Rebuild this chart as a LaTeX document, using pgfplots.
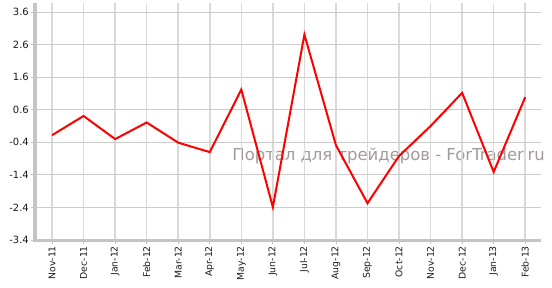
\documentclass[border=0pt]{standalone}
\usepackage{pgfplots}
\pgfplotsset{compat=1.18}
\usepackage{fontspec}
\setmainfont{DejaVu Sans}
\definecolor{axisgray}{HTML}{C4C4C4}
\definecolor{hgrid}{HTML}{CCCCCC}
\definecolor{vgrid}{HTML}{DADADA}
\definecolor{wm}{HTML}{A39A9A}
\begin{document}
\begin{tikzpicture}
\useasboundingbox (-35bp,-48bp) rectangle (517bp,240bp);
\node[anchor=east, text=wm, font=\fontsize{16.5}{18}\selectfont, inner sep=0pt] at (510bp,84bp) {Портал для трейдеров - ForTrader.ru};
\begin{axis}[
  at={(0,0)}, anchor=south west,
  scale only axis, width=506bp, height=237bp,
  xmin=-0.54, xmax=15.5,
  ymin=-3.4, ymax=3.88,
  xtick={0,...,15},
  xticklabels={Nov-11,Dec-11,Jan-12,Feb-12,Mar-12,Apr-12,May-12,Jun-12,Jul-12,Aug-12,Sep-12,Oct-12,Nov-12,Dec-12,Jan-13,Feb-13},
  ytick={-3.4,-2.4,-1.4,-0.4,0.6,1.6,2.6,3.6},
  yticklabels={-3.4,-2.4,-1.4,-0.4,0.6,1.6,2.6,3.6},
  x tick label style={rotate=90, anchor=east, font=\fontsize{9.3}{10}\selectfont, text=black!90, inner sep=2bp},
  y tick label style={font=\fontsize{10}{11}\selectfont, text=black!90, inner sep=2bp},
  axis line style={draw=none},
  xtick pos=bottom, ytick pos=left,
  tick align=outside, major tick length=4bp,
  tick style={draw=axisgray, line width=0.8bp},
  grid=major,
  x grid style={draw=vgrid, line width=1.6bp},
  y grid style={draw=hgrid, line width=1bp},
  clip=false,
]
\addplot[color=red, line width=2bp, mark=none] coordinates {
(0,-0.18) (1,0.41) (2,-0.30) (3,0.21) (4,-0.41) (5,-0.70) (6,1.22) (7,-2.39)
(8,2.91) (9,-0.49) (10,-2.27) (11,-0.82) (12,0.10) (13,1.12) (14,-1.31) (15,0.99)
};
\draw[axisgray, line width=3bp] (rel axis cs:0,1) -- (rel axis cs:0,0) -- (rel axis cs:1,0);
\end{axis}
\end{tikzpicture}
\end{document}
